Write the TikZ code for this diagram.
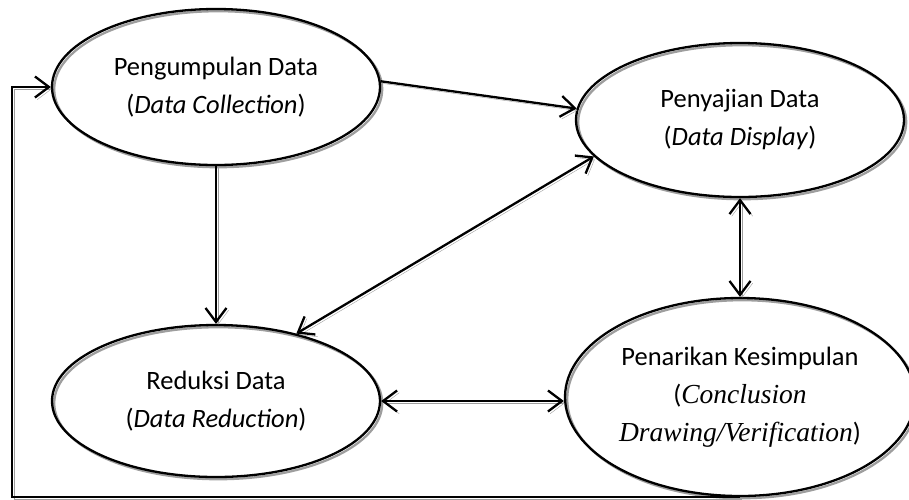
\documentclass[tikz,border=0pt]{standalone}
\usepackage{fontspec}
\setmainfont{Carlito}
\newfontfamily\cambit{Liberation Serif}
\usetikzlibrary{shapes.geometric,arrows.meta}
\definecolor{shgray}{gray}{0.62}
\begin{document}
\begin{tikzpicture}[x=1pt,y=-1pt,
  shadowed/.style={preaction={draw=shgray, transform canvas={shift={(2.2pt,-2.2pt)}}}},
  bub/.style={ellipse, draw, line width=2.3pt, inner sep=0pt, align=center,
    font=\fontsize{26.5}{38}\selectfont, shadowed},
  conn/.style={line width=2.3pt, line join=miter, shadowed},
  onehead/.style={-{Straight Barb[length=14pt,width=21pt]}},
  twohead/.style={{Straight Barb[length=14pt,width=21pt]}-{Straight Barb[length=14pt,width=21pt]}}
]
\useasboundingbox (0,0) rectangle (909,499);
\clip (0,0) rectangle (909,499);
\node[bub, minimum width=328pt, minimum height=156pt] (e1) at (216,87)
  {Pengumpulan Data\\(\textit{Data Collection})};
\node[bub, minimum width=328pt, minimum height=154pt] (e2) at (740,120)
  {Penyajian Data\\(\textit{Data Display})};
\node[bub, minimum width=328pt, minimum height=152pt] (e3) at (216,401)
  {Reduksi Data\\(\textit{Data Reduction})};
\node[bub, inner xsep=-6pt, minimum width=350pt, minimum height=198pt] (e4) at (740,397)
  {Penarikan Kesimpulan\\({\cambit\fontsize{27.5}{38}\selectfont\itshape Conclusion}\\{\cambit\fontsize{27.5}{38}\selectfont\itshape Drawing/Verification})};
\coordinate (lp) at (12,300);
\draw[conn, onehead] (e1.2) -- (e2.176);
\draw[conn, onehead] (e1.south) -- (e3.north);
\draw[conn, twohead] (e3.40) -- (e2.194);
\draw[conn, twohead] (e2.south) -- (e4.north);
\draw[conn, twohead] (e3.east) -- (e3.east -| e4.west);
\draw[conn, onehead] (e4.south) -| (lp) |- (e1.west);
\end{tikzpicture}
\end{document}
